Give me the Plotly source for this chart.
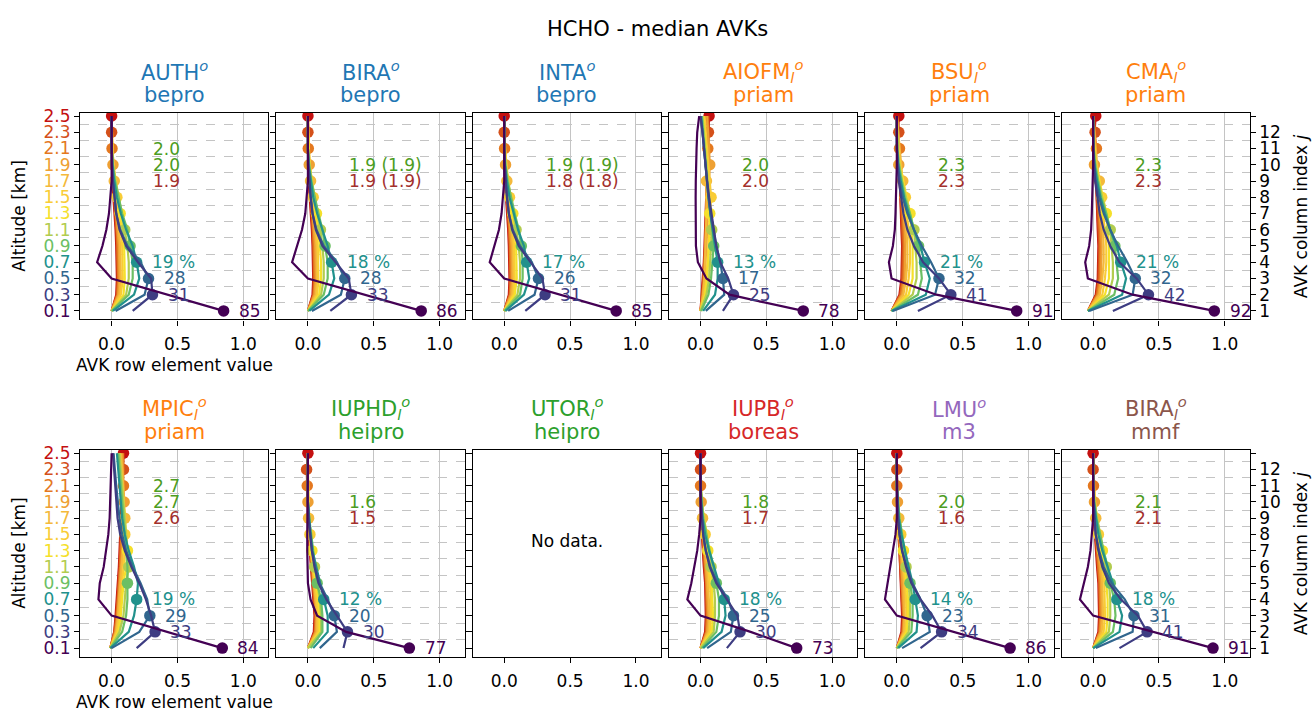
import plotly.graph_objects as go

# ---------------------------------------------------------------- data
ALTITUDE = [0.1, 0.3, 0.5, 0.7, 0.9, 1.1, 1.3, 1.5, 1.7, 1.9, 2.1, 2.3, 2.5]
COLUMN_INDEX = [1, 2, 3, 4, 5, 6, 7, 8, 9, 10, 11, 12]
ROW_COLORS = ["#440154", "#3e3d82", "#31668e", "#21918c", "#6cbf64", "#b2cc4f", "#f5e02a",
              "#f9cc35", "#f4b93b", "#eea033", "#e4781f", "#d4501a", "#c41010"]

INSTITUTES = ["AUTH", "BIRA", "INTA", "AIOFM", "BSU", "CMA",
              "MPIC", "IUPHD", "UTOR", "IUPB", "LMU", "BIRA"]
SUBSCRIPT_L = [False, False, False, True, True, True, True, True, True, True, False, True]
ALGORITHMS = ["bepro", "bepro", "bepro", "priam", "priam", "priam",
              "priam", "heipro", "heipro", "boreas", "m3", "mmf"]
ALGO_COLORS = {"bepro": "#1f77b4", "priam": "#ff7f0e", "heipro": "#2ca02c",
               "boreas": "#d62728", "m3": "#9467bd", "mmf": "#8c564b"}

# DOF-type summary numbers printed in every panel (last one in red)
SUMMARY_TEXT = [["2.0", "2.0", "1.9"], ["1.9 (1.9)", "1.9 (1.9)"], ["1.9 (1.9)", "1.8 (1.8)"],
                ["2.0", "2.0"], ["2.3", "2.3"], ["2.3", "2.3"],
                ["2.7", "2.7", "2.6"], ["1.6", "1.5"], [], ["1.8", "1.7"], ["2.0", "1.6"], ["2.1", "2.1"]]

# median AVK matrices: row i (altitude ALTITUDE[i]) holds values for columns j = 0..12
AVK_AUTH = [
    [0.85, 0.43, 0.00, -0.11, -0.07, -0.04, -0.02, -0.01, 0.00, 0.00, 0.00, 0.00, 0.00],
    [0.16, 0.31, 0.30, 0.20, 0.11, 0.06, 0.035, 0.02, 0.01, 0.005, 0.00, 0.00, 0.00],
    [0.03, 0.25, 0.28, 0.22, 0.12, 0.065, 0.035, 0.02, 0.01, 0.00, 0.00, 0.00, 0.00],
    [0.01, 0.17, 0.21, 0.19, 0.16, 0.11, 0.07, 0.04, 0.02, 0.005, 0.00, 0.00, 0.00],
    [0.00, 0.13, 0.16, 0.16, 0.14, 0.12, 0.08, 0.05, 0.025, 0.01, 0.00, 0.00, 0.00],
    [0.00, 0.11, 0.13, 0.13, 0.12, 0.10, 0.08, 0.055, 0.03, 0.01, 0.00, 0.00, 0.00],
    [0.00, 0.09, 0.10, 0.10, 0.095, 0.085, 0.065, 0.05, 0.03, 0.01, 0.005, 0.00, 0.00],
    [0.00, 0.07, 0.085, 0.085, 0.08, 0.07, 0.055, 0.04, 0.03, 0.015, 0.005, 0.00, 0.00],
    [0.00, 0.06, 0.07, 0.07, 0.065, 0.055, 0.045, 0.03, 0.02, 0.015, 0.005, 0.00, 0.00],
    [0.00, 0.05, 0.06, 0.06, 0.055, 0.045, 0.035, 0.025, 0.015, 0.01, 0.005, 0.00, 0.00],
    [0.00, 0.045, 0.05, 0.05, 0.045, 0.04, 0.03, 0.02, 0.01, 0.005, 0.003, 0.00, 0.00],
    [0.00, 0.04, 0.045, 0.045, 0.04, 0.035, 0.025, 0.015, 0.01, 0.005, 0.002, 0.00, 0.00],
    [0.00, 0.035, 0.04, 0.04, 0.035, 0.03, 0.02, 0.01, 0.005, 0.003, 0.001, 0.00, 0.00],
]
AVK_BIRA_BEPRO = [
    [0.86, 0.44, 0.00, -0.12, -0.08, -0.045, -0.02, -0.01, 0.00, 0.00, 0.00, 0.00, 0.00],
    [0.17, 0.33, 0.31, 0.21, 0.11, 0.06, 0.035, 0.02, 0.01, 0.005, 0.00, 0.00, 0.00],
    [0.03, 0.25, 0.28, 0.22, 0.12, 0.065, 0.035, 0.02, 0.01, 0.00, 0.00, 0.00, 0.00],
    [0.01, 0.16, 0.20, 0.18, 0.15, 0.11, 0.07, 0.04, 0.02, 0.005, 0.00, 0.00, 0.00],
    [0.00, 0.12, 0.15, 0.15, 0.13, 0.11, 0.08, 0.05, 0.025, 0.01, 0.00, 0.00, 0.00],
    [0.00, 0.10, 0.12, 0.12, 0.11, 0.095, 0.075, 0.05, 0.03, 0.01, 0.00, 0.00, 0.00],
    [0.00, 0.085, 0.10, 0.10, 0.09, 0.08, 0.065, 0.05, 0.03, 0.01, 0.005, 0.00, 0.00],
    [0.00, 0.07, 0.08, 0.08, 0.075, 0.065, 0.055, 0.04, 0.03, 0.015, 0.005, 0.00, 0.00],
    [0.00, 0.06, 0.07, 0.07, 0.065, 0.055, 0.045, 0.03, 0.02, 0.015, 0.005, 0.00, 0.00],
    [0.00, 0.05, 0.06, 0.06, 0.055, 0.045, 0.035, 0.025, 0.015, 0.01, 0.005, 0.00, 0.00],
    [0.00, 0.045, 0.05, 0.05, 0.045, 0.04, 0.03, 0.02, 0.01, 0.005, 0.003, 0.00, 0.00],
    [0.00, 0.04, 0.045, 0.045, 0.04, 0.035, 0.025, 0.015, 0.01, 0.005, 0.002, 0.00, 0.00],
    [0.00, 0.035, 0.04, 0.04, 0.035, 0.03, 0.02, 0.01, 0.005, 0.003, 0.001, 0.00, 0.00],
]
AVK_INTA = [
    [0.85, 0.42, 0.00, -0.11, -0.075, -0.04, -0.02, -0.01, 0.00, 0.00, 0.00, 0.00, 0.00],
    [0.16, 0.31, 0.29, 0.20, 0.11, 0.06, 0.035, 0.02, 0.01, 0.005, 0.00, 0.00, 0.00],
    [0.03, 0.23, 0.26, 0.21, 0.12, 0.065, 0.035, 0.02, 0.01, 0.00, 0.00, 0.00, 0.00],
    [0.01, 0.15, 0.19, 0.17, 0.15, 0.105, 0.07, 0.04, 0.02, 0.005, 0.00, 0.00, 0.00],
    [0.00, 0.12, 0.14, 0.14, 0.13, 0.11, 0.08, 0.05, 0.025, 0.01, 0.00, 0.00, 0.00],
    [0.00, 0.10, 0.12, 0.12, 0.11, 0.09, 0.075, 0.05, 0.03, 0.01, 0.00, 0.00, 0.00],
    [0.00, 0.08, 0.095, 0.095, 0.09, 0.08, 0.065, 0.05, 0.03, 0.01, 0.005, 0.00, 0.00],
    [0.00, 0.07, 0.08, 0.08, 0.075, 0.065, 0.05, 0.04, 0.03, 0.015, 0.005, 0.00, 0.00],
    [0.00, 0.06, 0.07, 0.07, 0.065, 0.055, 0.045, 0.03, 0.02, 0.015, 0.005, 0.00, 0.00],
    [0.00, 0.05, 0.06, 0.06, 0.055, 0.045, 0.035, 0.025, 0.015, 0.01, 0.005, 0.00, 0.00],
    [0.00, 0.045, 0.05, 0.05, 0.045, 0.04, 0.03, 0.02, 0.01, 0.005, 0.003, 0.00, 0.00],
    [0.00, 0.04, 0.045, 0.045, 0.04, 0.035, 0.025, 0.015, 0.01, 0.005, 0.002, 0.00, 0.00],
    [0.00, 0.035, 0.04, 0.04, 0.035, 0.03, 0.02, 0.01, 0.005, 0.003, 0.001, 0.00, 0.00],
]
AVK_AIOFM = [
    [0.78, 0.22, 0.045, -0.02, -0.035, -0.037, -0.037, -0.037, -0.036, -0.035, -0.03, -0.025, -0.01],
    [0.17, 0.25, 0.21, 0.15, 0.12, 0.10, 0.08, 0.065, 0.05, 0.04, 0.03, 0.015, 0.00],
    [0.04, 0.18, 0.17, 0.15, 0.12, 0.095, 0.075, 0.06, 0.05, 0.04, 0.03, 0.015, 0.00],
    [0.02, 0.11, 0.13, 0.13, 0.11, 0.09, 0.075, 0.06, 0.05, 0.04, 0.03, 0.02, 0.005],
    [0.005, 0.06, 0.08, 0.09, 0.10, 0.09, 0.075, 0.06, 0.05, 0.04, 0.03, 0.02, 0.01],
    [0.00, 0.045, 0.065, 0.075, 0.08, 0.085, 0.075, 0.065, 0.055, 0.045, 0.035, 0.025, 0.015],
    [0.00, 0.035, 0.05, 0.06, 0.065, 0.07, 0.07, 0.065, 0.055, 0.05, 0.04, 0.03, 0.02],
    [0.00, 0.03, 0.045, 0.055, 0.06, 0.065, 0.07, 0.08, 0.07, 0.06, 0.05, 0.04, 0.03],
    [0.00, 0.02, 0.03, 0.035, 0.04, 0.04, 0.045, 0.045, 0.045, 0.045, 0.04, 0.035, 0.03],
    [0.00, 0.02, 0.03, 0.04, 0.045, 0.05, 0.055, 0.06, 0.065, 0.07, 0.065, 0.06, 0.05],
    [0.00, 0.015, 0.025, 0.03, 0.035, 0.04, 0.045, 0.05, 0.05, 0.055, 0.055, 0.055, 0.05],
    [0.00, 0.015, 0.02, 0.03, 0.035, 0.04, 0.045, 0.05, 0.055, 0.055, 0.06, 0.06, 0.06],
    [0.00, 0.01, 0.02, 0.025, 0.03, 0.035, 0.04, 0.045, 0.05, 0.055, 0.06, 0.065, 0.065],
]
AVK_BSU = [
    [0.91, 0.30, -0.04, -0.06, -0.03, -0.015, -0.01, -0.005, 0.00, 0.00, 0.00, 0.00, 0.00],
    [0.16, 0.41, 0.32, 0.20, 0.13, 0.08, 0.05, 0.03, 0.015, 0.005, 0.00, 0.00, 0.00],
    [-0.03, 0.29, 0.32, 0.26, 0.19, 0.13, 0.08, 0.045, 0.02, 0.01, 0.00, 0.00, 0.00],
    [-0.04, 0.22, 0.25, 0.21, 0.18, 0.13, 0.09, 0.055, 0.03, 0.01, 0.00, 0.00, 0.00],
    [-0.04, 0.16, 0.19, 0.18, 0.165, 0.13, 0.10, 0.06, 0.035, 0.015, 0.005, 0.00, 0.00],
    [-0.04, 0.12, 0.15, 0.15, 0.14, 0.13, 0.10, 0.07, 0.04, 0.02, 0.005, 0.00, 0.00],
    [-0.04, 0.09, 0.12, 0.12, 0.12, 0.11, 0.10, 0.075, 0.045, 0.02, 0.01, 0.00, 0.00],
    [-0.04, 0.07, 0.09, 0.10, 0.10, 0.09, 0.08, 0.065, 0.05, 0.025, 0.01, 0.00, 0.00],
    [-0.04, 0.05, 0.07, 0.08, 0.08, 0.075, 0.065, 0.055, 0.045, 0.03, 0.02, 0.01, 0.00],
    [-0.04, 0.04, 0.06, 0.065, 0.065, 0.06, 0.05, 0.04, 0.03, 0.015, 0.01, 0.005, 0.00],
    [-0.04, 0.03, 0.05, 0.055, 0.055, 0.05, 0.045, 0.035, 0.025, 0.02, 0.02, 0.01, 0.00],
    [-0.04, 0.025, 0.04, 0.045, 0.045, 0.04, 0.035, 0.03, 0.02, 0.015, 0.01, 0.015, 0.005],
    [-0.04, 0.02, 0.035, 0.04, 0.04, 0.035, 0.03, 0.025, 0.02, 0.015, 0.01, 0.01, 0.015],
]
AVK_CMA = [
    [0.92, 0.30, -0.04, -0.06, -0.03, -0.015, -0.01, -0.005, 0.00, 0.00, 0.00, 0.00, 0.00],
    [0.15, 0.42, 0.33, 0.20, 0.13, 0.08, 0.05, 0.03, 0.015, 0.005, 0.00, 0.00, 0.00],
    [-0.03, 0.30, 0.32, 0.26, 0.19, 0.13, 0.08, 0.045, 0.02, 0.01, 0.00, 0.00, 0.00],
    [-0.04, 0.22, 0.25, 0.21, 0.18, 0.13, 0.09, 0.055, 0.03, 0.01, 0.00, 0.00, 0.00],
    [-0.04, 0.16, 0.19, 0.18, 0.165, 0.13, 0.10, 0.06, 0.035, 0.015, 0.005, 0.00, 0.00],
    [-0.04, 0.12, 0.15, 0.15, 0.14, 0.13, 0.10, 0.07, 0.04, 0.02, 0.005, 0.00, 0.00],
    [-0.04, 0.09, 0.12, 0.12, 0.12, 0.11, 0.10, 0.075, 0.045, 0.02, 0.01, 0.00, 0.00],
    [-0.04, 0.07, 0.09, 0.10, 0.10, 0.09, 0.08, 0.065, 0.05, 0.025, 0.01, 0.00, 0.00],
    [-0.04, 0.05, 0.07, 0.08, 0.08, 0.075, 0.065, 0.055, 0.047, 0.03, 0.02, 0.01, 0.00],
    [-0.04, 0.04, 0.06, 0.065, 0.065, 0.06, 0.05, 0.04, 0.03, 0.01, 0.01, 0.005, 0.00],
    [-0.04, 0.03, 0.05, 0.055, 0.055, 0.05, 0.045, 0.035, 0.025, 0.02, 0.025, 0.01, 0.00],
    [-0.04, 0.025, 0.04, 0.045, 0.045, 0.04, 0.035, 0.03, 0.02, 0.015, 0.01, 0.015, 0.005],
    [-0.04, 0.02, 0.035, 0.04, 0.04, 0.035, 0.03, 0.025, 0.02, 0.015, 0.01, 0.01, 0.02],
]
AVK_MPIC = [
    [0.84, 0.42, 0.00, -0.10, -0.09, -0.06, -0.04, -0.025, -0.015, -0.01, -0.005, 0.00, 0.00],
    [0.19, 0.33, 0.30, 0.26, 0.21, 0.15, 0.10, 0.065, 0.045, 0.035, 0.025, 0.015, 0.01],
    [0.00, 0.21, 0.29, 0.27, 0.22, 0.16, 0.11, 0.08, 0.06, 0.045, 0.035, 0.025, 0.015],
    [-0.01, 0.13, 0.17, 0.19, 0.20, 0.17, 0.13, 0.10, 0.08, 0.07, 0.06, 0.05, 0.04],
    [-0.01, 0.08, 0.11, 0.12, 0.12, 0.12, 0.11, 0.10, 0.09, 0.08, 0.07, 0.06, 0.05],
    [-0.01, 0.06, 0.09, 0.10, 0.11, 0.13, 0.12, 0.11, 0.10, 0.09, 0.08, 0.07, 0.06],
    [-0.01, 0.05, 0.07, 0.08, 0.09, 0.11, 0.12, 0.11, 0.10, 0.09, 0.08, 0.07, 0.06],
    [-0.01, 0.04, 0.06, 0.07, 0.08, 0.09, 0.10, 0.10, 0.10, 0.09, 0.08, 0.07, 0.06],
    [-0.01, 0.035, 0.05, 0.06, 0.07, 0.08, 0.09, 0.095, 0.10, 0.095, 0.09, 0.08, 0.07],
    [-0.01, 0.03, 0.045, 0.055, 0.065, 0.07, 0.08, 0.085, 0.09, 0.095, 0.09, 0.085, 0.08],
    [-0.01, 0.025, 0.04, 0.05, 0.06, 0.065, 0.07, 0.075, 0.08, 0.085, 0.09, 0.09, 0.085],
    [-0.01, 0.02, 0.035, 0.045, 0.055, 0.06, 0.065, 0.07, 0.075, 0.08, 0.085, 0.09, 0.09],
    [-0.01, 0.02, 0.03, 0.04, 0.05, 0.055, 0.06, 0.065, 0.07, 0.075, 0.08, 0.085, 0.09],
]
AVK_IUPHD = [
    [0.77, 0.29, 0.07, 0.02, 0.00, -0.005, -0.005, -0.005, -0.005, 0.00, 0.00, 0.00, 0.00],
    [0.27, 0.30, 0.22, 0.14, 0.08, 0.05, 0.03, 0.015, 0.005, 0.00, 0.00, 0.00, 0.00],
    [0.09, 0.22, 0.20, 0.15, 0.09, 0.055, 0.03, 0.015, 0.005, 0.00, 0.00, 0.00, 0.00],
    [0.04, 0.15, 0.15, 0.12, 0.09, 0.06, 0.035, 0.02, 0.01, 0.00, 0.00, 0.00, 0.00],
    [0.02, 0.11, 0.11, 0.10, 0.07, 0.055, 0.04, 0.02, 0.01, 0.00, 0.00, 0.00, 0.00],
    [0.00, 0.10, 0.10, 0.09, 0.07, 0.05, 0.035, 0.02, 0.01, 0.00, 0.00, 0.00, 0.00],
    [0.00, 0.09, 0.09, 0.08, 0.06, 0.045, 0.03, 0.02, 0.01, 0.00, 0.00, 0.00, 0.00],
    [0.00, 0.08, 0.08, 0.07, 0.055, 0.04, 0.025, 0.015, 0.01, 0.005, 0.00, 0.00, 0.00],
    [0.00, 0.07, 0.07, 0.06, 0.05, 0.035, 0.02, 0.01, 0.005, 0.00, 0.00, 0.00, 0.00],
    [0.00, 0.06, 0.065, 0.055, 0.045, 0.03, 0.02, 0.01, 0.005, 0.00, 0.00, 0.00, 0.00],
    [0.00, 0.055, 0.06, 0.05, 0.04, 0.03, 0.015, 0.01, 0.005, 0.00, -0.005, 0.00, 0.00],
    [0.00, 0.05, 0.055, 0.045, 0.035, 0.025, 0.015, 0.005, 0.00, 0.00, -0.005, -0.01, 0.00],
    [0.00, 0.045, 0.05, 0.04, 0.03, 0.02, 0.01, 0.005, 0.00, 0.00, 0.00, 0.00, 0.00],
]
AVK_IUPB = [
    [0.73, 0.38, 0.00, -0.10, -0.07, -0.045, -0.025, -0.01, 0.00, 0.00, 0.00, 0.00, 0.00],
    [0.20, 0.30, 0.28, 0.20, 0.12, 0.07, 0.04, 0.02, 0.01, 0.005, 0.00, 0.00, 0.00],
    [0.05, 0.23, 0.25, 0.21, 0.13, 0.075, 0.04, 0.02, 0.01, 0.00, 0.00, 0.00, 0.00],
    [0.02, 0.16, 0.19, 0.18, 0.14, 0.10, 0.065, 0.035, 0.015, 0.005, 0.00, 0.00, 0.00],
    [0.01, 0.12, 0.14, 0.14, 0.12, 0.10, 0.07, 0.045, 0.02, 0.01, 0.00, 0.00, 0.00],
    [0.00, 0.10, 0.11, 0.11, 0.10, 0.08, 0.065, 0.045, 0.025, 0.01, 0.00, 0.00, 0.00],
    [0.00, 0.085, 0.095, 0.09, 0.085, 0.07, 0.055, 0.05, 0.025, 0.01, 0.00, 0.00, 0.00],
    [0.00, 0.07, 0.08, 0.08, 0.07, 0.06, 0.045, 0.035, 0.02, 0.01, 0.00, 0.00, 0.00],
    [0.00, 0.06, 0.07, 0.065, 0.06, 0.05, 0.04, 0.025, 0.015, 0.005, 0.00, 0.00, 0.00],
    [0.00, 0.05, 0.06, 0.055, 0.05, 0.04, 0.03, 0.02, 0.01, 0.005, 0.00, 0.00, 0.00],
    [0.00, 0.045, 0.05, 0.05, 0.045, 0.035, 0.025, 0.015, 0.01, 0.005, 0.00, 0.00, 0.00],
    [0.00, 0.04, 0.045, 0.045, 0.04, 0.03, 0.02, 0.01, 0.005, 0.00, 0.00, 0.00, 0.00],
    [0.00, 0.035, 0.04, 0.04, 0.035, 0.025, 0.015, 0.01, 0.005, 0.00, 0.00, 0.00, 0.00],
]
AVK_LMU = [
    [0.86, 0.42, 0.00, -0.09, -0.07, -0.045, -0.025, -0.01, 0.00, 0.00, 0.00, 0.00, 0.00],
    [0.18, 0.34, 0.27, 0.18, 0.11, 0.07, 0.04, 0.02, 0.01, 0.005, 0.00, 0.00, 0.00],
    [0.04, 0.25, 0.23, 0.18, 0.12, 0.075, 0.04, 0.02, 0.01, 0.00, 0.00, 0.00, 0.00],
    [0.01, 0.15, 0.16, 0.14, 0.12, 0.09, 0.06, 0.035, 0.015, 0.005, 0.00, 0.00, 0.00],
    [0.00, 0.11, 0.12, 0.12, 0.10, 0.085, 0.06, 0.04, 0.02, 0.01, 0.00, 0.00, 0.00],
    [0.00, 0.09, 0.10, 0.10, 0.09, 0.07, 0.055, 0.04, 0.02, 0.01, 0.00, 0.00, 0.00],
    [0.00, 0.075, 0.085, 0.085, 0.075, 0.06, 0.05, 0.035, 0.02, 0.01, 0.00, 0.00, 0.00],
    [0.00, 0.065, 0.075, 0.07, 0.065, 0.05, 0.04, 0.03, 0.02, 0.01, 0.00, 0.00, 0.00],
    [0.00, 0.055, 0.06, 0.06, 0.055, 0.045, 0.035, 0.025, 0.015, 0.005, 0.00, 0.00, 0.00],
    [0.00, 0.05, 0.055, 0.05, 0.045, 0.04, 0.03, 0.02, 0.01, 0.005, 0.00, 0.00, 0.00],
    [0.00, 0.045, 0.05, 0.045, 0.04, 0.035, 0.025, 0.015, 0.01, 0.005, 0.00, 0.00, 0.00],
    [0.00, 0.04, 0.045, 0.04, 0.035, 0.03, 0.02, 0.01, 0.005, 0.00, 0.00, 0.00, 0.00],
    [0.00, 0.035, 0.04, 0.035, 0.03, 0.025, 0.015, 0.01, 0.005, 0.00, 0.00, 0.00, 0.00],
]
AVK_BIRA_MMF = [
    [0.91, 0.45, 0.00, -0.10, -0.07, -0.04, -0.02, -0.01, 0.00, 0.00, 0.00, 0.00, 0.00],
    [0.20, 0.41, 0.34, 0.21, 0.12, 0.07, 0.04, 0.02, 0.01, 0.005, 0.00, 0.00, 0.00],
    [0.02, 0.30, 0.31, 0.24, 0.14, 0.08, 0.045, 0.02, 0.01, 0.00, 0.00, 0.00, 0.00],
    [0.00, 0.20, 0.22, 0.18, 0.15, 0.11, 0.07, 0.04, 0.02, 0.005, 0.00, 0.00, 0.00],
    [0.00, 0.15, 0.17, 0.16, 0.13, 0.11, 0.08, 0.05, 0.025, 0.01, 0.00, 0.00, 0.00],
    [0.00, 0.12, 0.13, 0.13, 0.12, 0.10, 0.08, 0.055, 0.03, 0.01, 0.00, 0.00, 0.00],
    [0.00, 0.10, 0.11, 0.11, 0.10, 0.085, 0.07, 0.05, 0.03, 0.01, 0.005, 0.00, 0.00],
    [0.00, 0.08, 0.09, 0.09, 0.085, 0.07, 0.055, 0.04, 0.03, 0.015, 0.005, 0.00, 0.00],
    [0.00, 0.065, 0.075, 0.075, 0.07, 0.06, 0.045, 0.03, 0.02, 0.01, 0.005, 0.00, 0.00],
    [0.00, 0.055, 0.065, 0.065, 0.06, 0.05, 0.035, 0.025, 0.015, 0.01, 0.005, 0.00, 0.00],
    [0.00, 0.05, 0.055, 0.055, 0.05, 0.04, 0.03, 0.02, 0.01, 0.005, 0.003, 0.00, 0.00],
    [0.00, 0.045, 0.05, 0.05, 0.045, 0.035, 0.025, 0.015, 0.01, 0.005, 0.002, 0.00, 0.00],
    [0.00, 0.04, 0.045, 0.045, 0.04, 0.03, 0.02, 0.01, 0.005, 0.003, 0.001, 0.00, 0.00],
]
PANEL_AVKS = [AVK_AUTH, AVK_BIRA_BEPRO, AVK_INTA, AVK_AIOFM, AVK_BSU, AVK_CMA,
              AVK_MPIC, AVK_IUPHD, None, AVK_IUPB, AVK_LMU, AVK_BIRA_MMF]

# ---------------------------------------------------------------- layout helpers
W, H = 1315, 714
FONT = "DejaVu Sans"
PANEL_LEFT, PANEL_W, PANEL_STEP = 80.0, 188.4, 196.3
ROW_TOP = [107.0, 448.0]
PANEL_H = 209.0
X_RANGE = [-0.24, 1.19]
Y_RANGE = [-0.005, 2.54]
GREEN_TXT = "#4c9c22"
RED_TXT = "#a3302c"
GRID = "#c4c4c4"


def px(x):
    return x / W


def py(y):
    return 1 - y / H


fig = go.Figure()
layout = dict(
    width=W, height=H, margin=dict(l=0, r=0, t=0, b=0),
    paper_bgcolor="white", plot_bgcolor="white", showlegend=False,
    font=dict(family=FONT, size=17, color="black"),
)
annotations = []
right_axis_id = 13

for k in range(12):
    r, c = divmod(k, 6)
    n = k + 1
    left = PANEL_LEFT + c * PANEL_STEP
    top = ROW_TOP[r]
    xdom = [px(left), px(left + PANEL_W)]
    ydom = [py(top + PANEL_H), py(top)]
    avk = PANEL_AVKS[k]
    has_data = avk is not None

    layout[f"xaxis{n}"] = dict(
        domain=xdom, anchor=f"y{n}", range=X_RANGE,
        tickvals=[0.0, 0.5, 1.0], ticktext=["0.0", "0.5", "1.0"],
        ticks="outside", ticklen=5, tickwidth=1.1, tickcolor="black",
        showline=True, linecolor="black", linewidth=1.2, mirror=True,
        showgrid=has_data, gridcolor=GRID, gridwidth=1, zeroline=False,
        tickfont=dict(size=17), ticklabelstandoff=4,
    )
    layout[f"yaxis{n}"] = dict(
        domain=ydom, anchor=f"x{n}", range=Y_RANGE,
        tickvals=ALTITUDE,
        ticktext=[f'<span style="color:{col}">{a:.1f}</span>' for a, col in zip(ALTITUDE, ROW_COLORS)],
        showticklabels=(c == 0),
        ticks="outside", ticklen=5, tickwidth=1.1, tickcolor="black",
        showline=True, linecolor="black", linewidth=1.2, mirror="ticks",
        showgrid=False, zeroline=False, tickfont=dict(size=17),
        minor=dict(tickmode="array", tickvals=[0.2 * m for m in range(1, 13)],
                   showgrid=has_data, gridcolor=GRID, griddash="dash", gridwidth=1, ticks=""),
    )

    if has_data:
        # AVK rows, top layer first so that the lowest rows end up on top
        for i in reversed(range(13)):
            fig.add_trace(go.Scatter(
                x=avk[i], y=ALTITUDE, mode="lines", xaxis=f"x{n}", yaxis=f"y{n}",
                line=dict(color=ROW_COLORS[i], width=2.2), hoverinfo="skip", showlegend=False))
            fig.add_trace(go.Scatter(
                x=[avk[i][i]], y=[ALTITUDE[i]], mode="markers", xaxis=f"x{n}", yaxis=f"y{n}",
                marker=dict(color=ROW_COLORS[i], size=11.5, line=dict(width=0)),
                hoverinfo="skip", showlegend=False))
    else:
        fig.add_trace(go.Scatter(x=[None], y=[None], xaxis=f"x{n}", yaxis=f"y{n}",
                                 showlegend=False, hoverinfo="skip"))

    if c == 5:
        # labelled right-hand axis: AVK column index j
        rid = right_axis_id
        right_axis_id += 1
        layout[f"yaxis{rid}"] = dict(
            overlaying=f"y{n}", anchor=f"x{n}", side="right", range=Y_RANGE,
            tickvals=ALTITUDE[:12], ticktext=[str(j) for j in COLUMN_INDEX],
            ticks="outside", ticklen=5, tickwidth=1.1, tickcolor="black",
            showline=False, showgrid=False, zeroline=False, tickfont=dict(size=17),
        )
        fig.add_trace(go.Scatter(x=[None], y=[None], xaxis=f"x{n}", yaxis=f"y{rid}",
                                 showlegend=False, hoverinfo="skip"))

    # panel title
    name = INSTITUTES[k]
    if SUBSCRIPT_L[k]:
        name += "<sub><i>l</i></sub><sup><i>o</i></sup>"
    else:
        name += "<sup><i>o</i></sup>"
    tcol = ALGO_COLORS[ALGORITHMS[k]]
    cx = px(left + PANEL_W / 2)
    annotations.append(dict(text=name, x=cx, y=py(top - 42), xref="paper", yref="paper",
                            showarrow=False, xanchor="center", yanchor="middle",
                            font=dict(size=21, color=tcol)))
    annotations.append(dict(text=ALGORITHMS[k], x=cx, y=py(top - 18), xref="paper", yref="paper",
                            showarrow=False, xanchor="center", yanchor="middle",
                            font=dict(size=21, color=tcol)))

    if not has_data:
        annotations.append(dict(text="No data.", x=cx, y=py(top + PANEL_H / 2), xref="paper",
                                yref="paper", showarrow=False, font=dict(size=17, color="black")))
        continue

    # diagonal values of the four lowest rows in percent
    for i in range(4):
        label = f"{round(avk[i][i] * 100)}" + (" %" if i == 3 else "")
        annotations.append(dict(text=label, x=avk[i][i] + 0.1, y=ALTITUDE[i],
                                xref=f"x{n}", yref=f"y{n}", showarrow=False,
                                xanchor="left", yanchor="middle",
                                font=dict(size=17, color=ROW_COLORS[i])))

    # summary numbers
    texts = SUMMARY_TEXT[k]
    ys = [2.1, 1.9, 1.7][3 - len(texts):]
    for idx, (t, yv) in enumerate(zip(texts, ys)):
        col = RED_TXT if idx == len(texts) - 1 else GREEN_TXT
        annotations.append(dict(text=t, x=0.3, y=yv, xref=f"x{n}", yref=f"y{n}",
                                showarrow=False, xanchor="left", yanchor="middle",
                                font=dict(size=17, color=col)))

# figure title and axis labels
annotations.append(dict(text="HCHO - median AVKs", x=0.5, y=py(22), xref="paper", yref="paper",
                        showarrow=False, xanchor="center", yanchor="middle", font=dict(size=21)))
for r in range(2):
    top = ROW_TOP[r]
    mid = py(top + PANEL_H / 2)
    annotations.append(dict(text="Altitude [km]", x=px(19.5), y=mid, xref="paper", yref="paper",
                            textangle=-90, showarrow=False, xanchor="center", yanchor="middle",
                            font=dict(size=17)))
    annotations.append(dict(text="AVK row element value", x=px(PANEL_LEFT + PANEL_W / 2),
                            y=py(top + PANEL_H + 46), xref="paper", yref="paper", showarrow=False,
                            xanchor="center", yanchor="middle", font=dict(size=17)))
    annotations.append(dict(text="AVK column index <i>j</i>", x=px(1301), y=mid, xref="paper",
                            yref="paper", textangle=-90, showarrow=False, xanchor="center",
                            yanchor="middle", font=dict(size=17)))

layout["annotations"] = annotations
fig.update_layout(**layout)
fig.write_html("out.html")
